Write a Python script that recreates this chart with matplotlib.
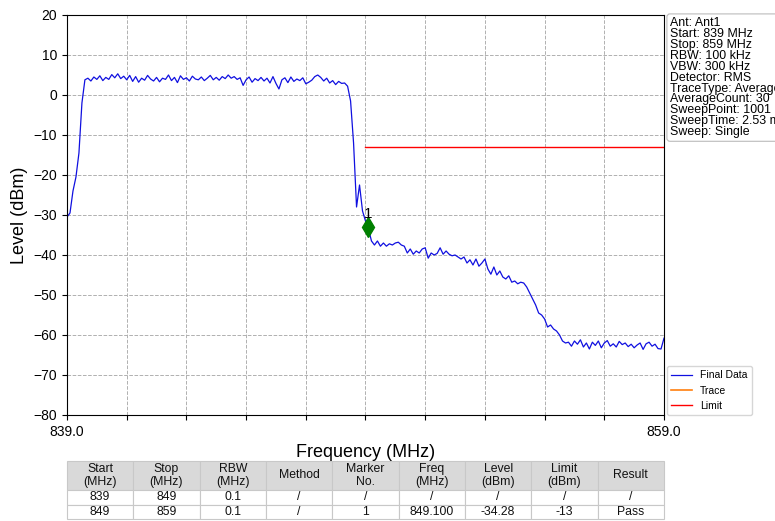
import numpy as np
import matplotlib
matplotlib.use("Agg")
import matplotlib.pyplot as plt

plt.rcParams['font.family'] = ['Liberation Sans', 'DejaVu Sans']

# ---- data ----
freq_start = 839.0
freq_stop = 859.0
n_points = 201

level_rise = [-30.5, -29.5, -24.0, -20.5, -14.5, -2.0]
level_flat = [3.8, 4.2, 3.5, 4.5, 3.9, 4.8, 3.6, 4.4, 3.9, 5.1,
              4.3, 5.3, 4.1, 4.7, 3.8, 4.9, 3.4, 4.6, 3.2, 4.2,
              3.7, 4.9, 4.0, 3.5, 4.4, 3.3, 4.2, 3.9, 5.0, 3.6,
              4.4, 3.1, 4.8, 3.9, 4.3, 3.5, 4.7, 4.0, 3.8, 4.5,
              3.6, 4.2, 4.9, 3.8, 4.4, 3.7, 4.6, 4.1, 5.0, 4.2,
              4.6, 3.9, 4.3, 2.4, 3.8, 4.5, 3.2, 4.1, 3.6, 4.4,
              3.5, 4.2, 3.0, 4.6, 2.9, 1.5, 3.8, 4.3, 3.1, 4.5,
              3.4, 4.0, 3.6, 4.3, 2.8, 3.2, 3.7, 4.6, 5.0, 4.4,
              3.5, 4.2, 3.0, 3.6, 2.6, 3.4, 2.9]
level_fall = [3.0, 2.2, -1.5, -12.0, -28.0, -22.5, -29.0, -31.5, -33.5, -36.5,
              -37.5, -36.5, -37.8, -37.0, -37.8, -37.2, -37.5, -37.0, -36.8, -37.5,
              -37.8, -39.5, -38.5, -39.8, -39.0, -39.5, -38.5, -38.2, -40.8, -39.5,
              -40.0, -39.6, -38.2, -39.8, -39.0, -39.8, -40.2, -40.0, -40.5, -41.0,
              -40.5, -42.0, -41.2, -42.5, -41.0, -42.8, -42.0, -41.0, -43.5, -44.8,
              -43.0, -45.0, -44.0, -45.5, -46.0, -45.2, -46.8, -46.5, -47.2, -46.8,
              -47.0, -48.0, -49.5, -51.0, -52.5, -54.5, -55.0, -56.0, -58.0, -57.5,
              -58.5, -59.0, -60.0, -61.5, -62.0, -61.8, -62.8, -61.5]
level_floor = [-62.3, -61.2, -63.0, -62.0, -63.5, -61.8, -62.6, -61.5, -63.2, -62.0,
               -61.4, -62.8, -62.2, -63.0, -61.6, -62.4, -62.0, -62.9, -62.3, -63.2,
               -62.5, -62.0, -63.6, -62.2, -61.8, -62.8, -62.3, -63.4, -63.5, -60.8]
levels = level_rise + level_flat + level_fall + level_floor

limit_freq = [849.0, 859.0]
limit_level = [-13.0, -13.0]

marker_freq = 849.1
marker_level = -33.0
marker_label = "1"

info_lines = ["Ant: Ant1", "Start: 839 MHz", "Stop: 859 MHz", "RBW: 100 kHz",
              "VBW: 300 kHz", "Detector: RMS", "TraceType: Average",
              "AverageCount: 30", "SweepPoint: 1001", "SweepTime: 2.53 ms",
              "Sweep: Single"]

table_header = ["Start\n(MHz)", "Stop\n(MHz)", "RBW\n(MHz)", "Method", "Marker\nNo.",
                "Freq\n(MHz)", "Level\n(dBm)", "Limit\n(dBm)", "Result"]
table_rows = [["839", "849", "0.1", "/", "/", "/", "/", "/", "/"],
              ["849", "859", "0.1", "/", "1", "849.100", "-34.28", "-13", "Pass"]]

freqs = np.linspace(freq_start, freq_stop, n_points)

# ---- figure ----
W, H = 775, 521
fig = plt.figure(figsize=(W / 100, H / 100), dpi=100)
ax = fig.add_axes([67 / W, 1 - 415 / H, (664 - 67) / W, (415 - 15) / H])

ax.plot(freqs, levels, color='#1010e0', lw=0.9, label='Final Data')
ax.plot([], [], color='#ff7f0e', lw=1.2, label='Trace')
ax.plot(limit_freq, limit_level, color='red', lw=1.0, label='Limit')
ax.plot([marker_freq], [marker_level], marker='d', color='green', ms=10, ls='none')
ax.text(marker_freq - 0.02, marker_level + 1.5, marker_label, fontsize=11,
        ha='center', va='bottom')

ax.set_xlim(freq_start, freq_stop)
ax.set_ylim(-80, 20)
ax.set_yticks(np.arange(-80, 21, 10))
xt = np.arange(839, 860, 2)
ax.set_xticks(xt)
ax.set_xticklabels(["839.0" if v == 839 else ("859.0" if v == 859 else "") for v in xt])
ax.tick_params(labelsize=10)
ax.grid(True, ls='--', color='#b0b0b0', lw=0.7)
ax.set_ylabel("Level (dBm)", fontsize=13)
ax.set_xlabel("Frequency (MHz)", fontsize=13, labelpad=4)

leg = ax.legend(loc='lower left', bbox_to_anchor=(1.005, 0.0), fontsize=7.5,
                frameon=True, borderaxespad=0.0, handlelength=2.0)
leg.get_frame().set_edgecolor('#cccccc')

fig.text(670 / W, 1 - 17 / H, "\n".join(info_lines), fontsize=8.9, va='top', ha='left',
         linespacing=0.88,
         bbox=dict(boxstyle='round,pad=0.25', fc='white', ec='#bbbbbb', lw=0.8))

tab = ax.table(cellText=table_rows, colLabels=table_header, cellLoc='center',
               bbox=[0.0, (415 - 519) / 400, 1.0, (519 - 461) / 400])
tab.auto_set_font_size(False)
tab.set_fontsize(8.8)
for (r, c), cell in tab.get_celld().items():
    cell.set_edgecolor('#c8c8c8')
    cell.set_linewidth(0.8)
    cell.get_text().set_color('#111111')
    if r == 0:
        cell.set_facecolor('#d9d9d9')
        cell.set_height(29 / 400)
    else:
        cell.set_height(14.5 / 400)

fig.savefig("out.png", dpi=100)
